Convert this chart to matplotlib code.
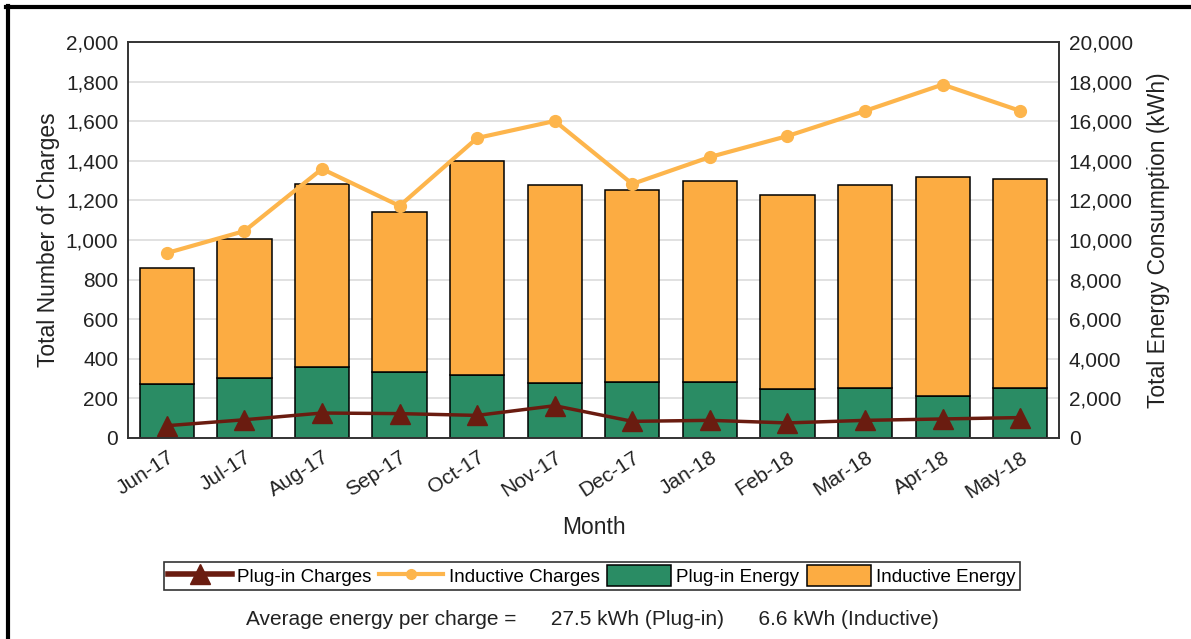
import matplotlib
matplotlib.use("Agg")
import matplotlib.pyplot as plt
from matplotlib.lines import Line2D
from matplotlib.patches import Patch
import numpy as np

plt.rcParams['font.family'] = ['Liberation Sans', 'DejaVu Sans']

# dati
months = ["Jun-17", "Jul-17", "Aug-17", "Sep-17", "Oct-17", "Nov-17",
          "Dec-17", "Jan-18", "Feb-18", "Mar-18", "Apr-18", "May-18"]
plugin_energy = [2730, 3030, 3590, 3350, 3200, 2800, 2850, 2850, 2460, 2540, 2140, 2540]
inductive_energy = [5860, 7020, 9240, 8060, 10790, 9980, 9680, 10130, 9810, 10240, 11040, 10540]
plugin_charges = [62, 92, 126, 123, 114, 163, 84, 89, 76, 89, 96, 103]
inductive_charges = [934, 1045, 1359, 1172, 1515, 1601, 1283, 1419, 1525, 1652, 1785, 1652]

c_orange = "#fcac42"
c_green = "#2a8c64"
c_line_orange = "#fdb54c"
c_dark = "#6a1c10"

fig = plt.figure(figsize=(11.91, 6.39), dpi=100)
ax = fig.add_axes([0.1075, 0.3146, 0.7817, 0.6197])
ax2 = ax.twinx()

x = np.arange(len(months))

# barre sull'asse destro (energia)
ax2.bar(x, plugin_energy, width=0.7, color=c_green, edgecolor="black", linewidth=1.1)
ax2.bar(x, inductive_energy, width=0.7, bottom=plugin_energy, color=c_orange,
        edgecolor="black", linewidth=1.1)
ax2.set_ylim(0, 20000)
ax2.set_yticks(np.arange(0, 20001, 2000))
ax2.set_yticklabels([f"{v:,}" for v in range(0, 20001, 2000)])
ax2.yaxis.grid(True, color="#dcdcdc", linewidth=1.2)
ax2.set_axisbelow(True)
ax2.set_ylabel("Total Energy Consumption (kWh)", fontsize=16.5, color="#222222", labelpad=10)

# linee sull'asse sinistro (numero di ricariche)
ax.plot(x, inductive_charges, color=c_line_orange, linewidth=3, marker="o", markersize=8.5)
ax.plot(x, plugin_charges, color=c_dark, linewidth=2.5, marker="^", markersize=14)
ax.set_zorder(ax2.get_zorder() + 1)
ax.patch.set_visible(False)
ax.set_ylim(0, 2000)
ax.set_yticks(np.arange(0, 2001, 200))
ax.set_yticklabels([f"{v:,}" for v in range(0, 2001, 200)])
ax.set_xlim(-0.5, len(months) - 0.5)
ax.set_xticks(x)
ax.set_xticklabels(months, rotation=33, ha="right", rotation_mode="anchor")
ax.set_xlabel("Month", fontsize=16.5, color="#222222", labelpad=10)
ax.set_ylabel("Total Number of Charges", fontsize=16.5, color="#222222", labelpad=4)

for a in (ax, ax2):
    a.tick_params(axis="both", labelsize=15, labelcolor="#222222", length=0, pad=7)
    for s in a.spines.values():
        s.set_color("#333333")
        s.set_linewidth(1.2)

handles = [
    Line2D([], [], color=c_dark, linewidth=4, marker="^", markersize=14),
    Line2D([], [], color=c_line_orange, linewidth=3, marker="o", markersize=7),
    Patch(facecolor=c_green, edgecolor="black", linewidth=1.1),
    Patch(facecolor=c_orange, edgecolor="black", linewidth=1.1),
]
labels = ["Plug-in Charges", "Inductive Charges", "Plug-in Energy", "Inductive Energy"]
leg = fig.legend(handles, labels, loc="center", bbox_to_anchor=(0.497, 0.099), ncol=4,
                 fontsize=13.5, frameon=True, fancybox=False, handlelength=3.4,
                 handleheight=1.3, handletextpad=0.3, columnspacing=0.4,
                 borderpad=0.2)
leg.get_frame().set_edgecolor("black")
leg.get_frame().set_linewidth(1.2)

fig.text(0.497, 0.03, "Average energy per charge =      27.5 kWh (Plug-in)      6.6 kWh (Inductive)",
         ha="center", va="center", fontsize=15, color="#222222")

# cornice in alto e a sinistra
fig.add_artist(Line2D([0.0065, 0.0065], [0, 0.99], color="black", linewidth=3,
                      transform=fig.transFigure))
fig.add_artist(Line2D([0.005, 1], [0.9885, 0.9885], color="black", linewidth=3,
                      transform=fig.transFigure))

fig.savefig("out.png", dpi=100)
